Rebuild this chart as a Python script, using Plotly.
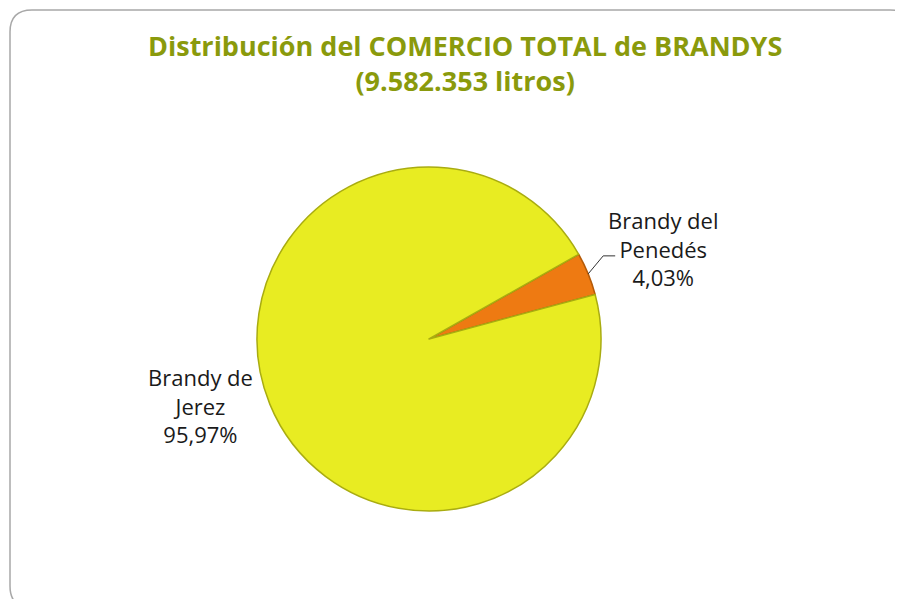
import math
import plotly.graph_objects as go

# page body has an 8px margin: figure is shrunk and coordinates shifted
OFF = 8
W, H = 903 - OFF, 599 - OFF

labels = ["Brandy del Penedés", "Brandy de Jerez"]
label_lines = [["Brandy del", "Penedés"], ["Brandy de", "Jerez"]]
values = [4.03, 95.97]
pct_text = ["4,03%", "95,97%"]
colors = ["#EE7A12", "#E8EC22"]
line_colors = ["#B45A08", "#A9AC10"]

title_lines = ["Distribución del COMERCIO TOTAL de BRANDYS", "(9.582.353 litros)"]

# pie geometry (screen pixels)
cx, cy, r = 429, 339, 172
start_math_deg = 15.0  # small slice starts here (math angle), going counterclockwise

total = sum(values)
span0 = 360 * values[0] / total


def px(x):
    return (x - OFF) / W


def py(y):
    return 1 - (y - OFF) / H


fig = go.Figure()
fig.add_trace(go.Pie(
    labels=labels,
    values=values,
    sort=False,
    direction="clockwise",
    rotation=90 - start_math_deg - span0,
    marker=dict(colors=colors, line=dict(color=line_colors, width=1.5)),
    textinfo="none",
    hoverinfo="label+percent",
    domain=dict(x=[px(cx - r), px(cx + r)], y=[py(cy + r), py(cy - r)]),
    showlegend=False,
))

font_lbl = dict(family="Open Sans, DejaVu Sans, sans-serif", size=22, color="#1a1a1a")

annotations = [
    dict(text="<br>".join(label_lines[0] + [pct_text[0]]), x=px(663), y=py(248),
         xref="paper", yref="paper", xanchor="center", yanchor="middle",
         showarrow=False, font=font_lbl, align="center"),
    dict(text="<br>".join(label_lines[1] + [pct_text[1]]), x=px(200), y=py(406),
         xref="paper", yref="paper", xanchor="center", yanchor="middle",
         showarrow=False, font=font_lbl, align="center"),
    dict(text="<b>" + "<br>".join(title_lines) + "</b>", x=px(465), y=py(63),
         xref="paper", yref="paper", xanchor="center", yanchor="middle",
         showarrow=False, align="center",
         font=dict(family="Open Sans, DejaVu Sans, sans-serif", size=27, color="#8A9A0C")),
]

# leader line from mid-angle of the small slice
mid = math.radians(start_math_deg + span0 / 2)
x0 = cx + r * math.cos(mid)
y0 = cy - r * math.sin(mid)
shapes = [
    dict(type="path", xref="paper", yref="paper",
         path=f"M {px(x0)} {py(y0)} L {px(x0 + 15)} {py(y0 - 18)} L {px(x0 + 27)} {py(y0 - 18)}",
         line=dict(color="#333333", width=1)),
]

# rounded border
L, T, R, B, rad = 10, 10, 912, 608, 22
border = (f"M {px(L + rad)} {py(T)} L {px(R - rad)} {py(T)} Q {px(R)} {py(T)} {px(R)} {py(T + rad)} "
          f"L {px(R)} {py(B - rad)} Q {px(R)} {py(B)} {px(R - rad)} {py(B)} "
          f"L {px(L + rad)} {py(B)} Q {px(L)} {py(B)} {px(L)} {py(B - rad)} "
          f"L {px(L)} {py(T + rad)} Q {px(L)} {py(T)} {px(L + rad)} {py(T)} Z")
shapes.append(dict(type="path", xref="paper", yref="paper", path=border,
                   line=dict(color="#A8A8A8", width=1.5), layer="below"))

fig.update_layout(
    width=W, height=H,
    margin=dict(l=0, r=0, t=0, b=0),
    paper_bgcolor="white",
    plot_bgcolor="white",
    annotations=annotations,
    shapes=shapes,
)

fig.write_html("out.html")
